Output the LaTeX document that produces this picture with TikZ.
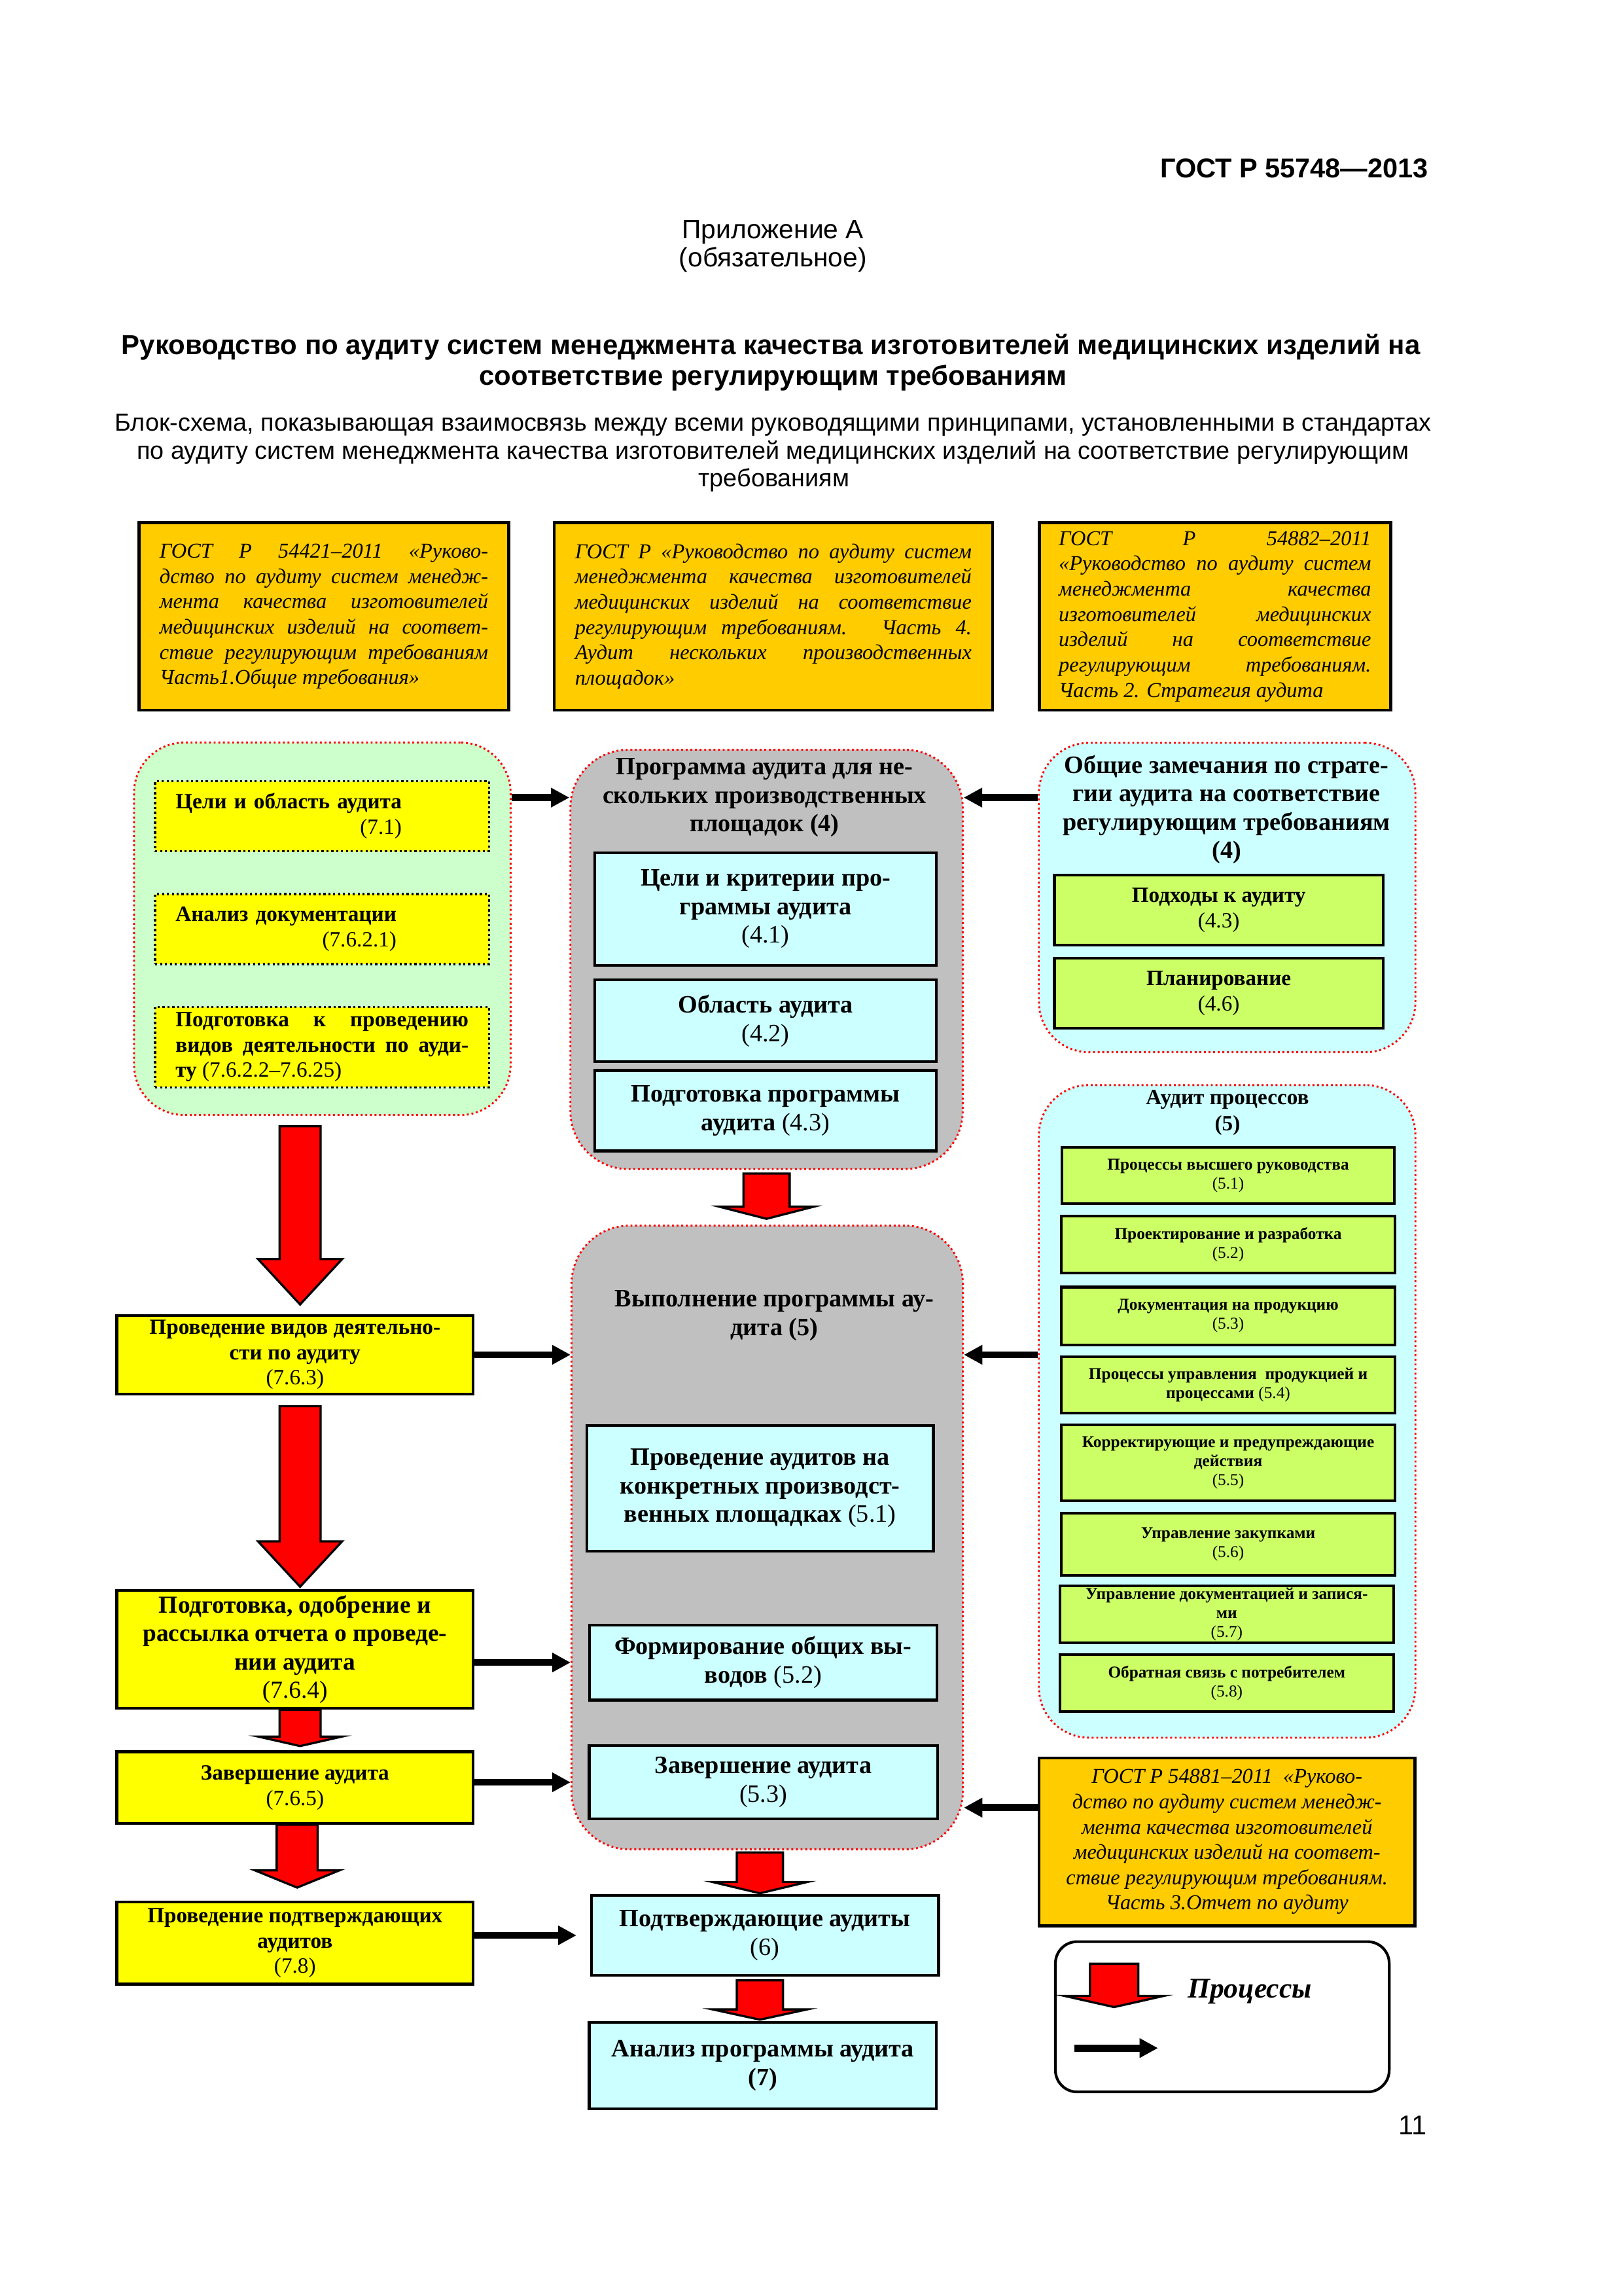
\documentclass[tikz,border=0pt]{standalone}
\usepackage{fontspec}
\setmainfont{Liberation Serif}
\newfontfamily\arialfont{Liberation Sans}
\usetikzlibrary{calc,arrows.meta}

\hyphenpenalty=10000
\exhyphenpenalty=10000

\definecolor{stdorange}{HTML}{FFCC00}
\definecolor{ryellow}{HTML}{FFFF00}
\definecolor{paleg}{HTML}{CCFFCC}
\definecolor{paleblue}{HTML}{CCFFFF}
\definecolor{lime}{HTML}{CCFF66}
\definecolor{grpgray}{HTML}{C0C0C0}

\newcommand{\uu}{0.18937mm}
\newcommand{\secno}[1]{\textmd{#1}}
\newcommand{\boxfont}{\fontsize{9.2}{10.45}\selectfont\bfseries}
\newcommand{\smallbox}{\fontsize{8}{9.3}\selectfont\bfseries}
\newcommand{\procfont}{\fontsize{6.1}{7}\selectfont\bfseries}
\newcommand{\stdfont}{\fontsize{7.8}{9.3}\selectfont\itshape}

\tikzset{
  sz/.style 2 args={minimum width=#1*\uu, minimum height=#2*\uu},
  grp/.style={draw=red, densely dotted, line width=0.7pt, inner sep=0pt},
  stdbox/.style={draw, line width=1.1pt, fill=stdorange, inner sep=0pt, font=\stdfont},
  cbox/.style={draw, line width=1pt, fill=paleblue, inner sep=0pt, align=center, font=\boxfont},
  gbox/.style={draw, line width=1pt, fill=lime, inner sep=0pt, align=center, font=\procfont},
  ybox/.style={draw, line width=1pt, fill=ryellow, inner sep=0pt, align=center, font=\smallbox},
  ydot/.style={draw, densely dotted, line width=0.8pt, fill=ryellow, inner sep=0pt, font=\smallbox},
  grptitle/.style={inner sep=0pt, align=center, font=\boxfont},
  conn/.style={line width=2.6pt, -{Triangle[length=6.8pt,width=6.8pt]}},
  procarrow/.style={fill=red, draw=black, line width=0.8pt},
  head/.style={anchor=base, inner sep=0pt},
}

% red block arrow: top, tip, head length, half shaft width
\newcommand{\redarrow}[4]{%
  \coordinate (ra) at (#1);
  \coordinate (rb) at (#2);
  \filldraw[procarrow] ($(ra)+(-#4,0)$) -- ($(rb)+(-#4,-#3)$) -- ($(rb)+(-2.05*#4,-#3)$)
    -- (rb) -- ($(rb)+(2.05*#4,-#3)$) -- ($(rb)+(#4,-#3)$) -- ($(ra)+(#4,0)$) -- cycle;}

\begin{document}
\begin{tikzpicture}[x=\uu, y=-\uu]

\fill[white] (0,0) rectangle (1109,1568);
\useasboundingbox (0,0) rectangle (1109,1568);

% page head
\node[head, anchor=base east, font=\arialfont\bfseries\fontsize{10}{12}\selectfont] (gostno) at (976,121.5) {ГОСТ Р 55748—2013};
\node[head, font=\arialfont\fontsize{9.8}{12}\selectfont] (appx1) at (528,162.8) {Приложение А};
\node[head, font=\arialfont\fontsize{9.8}{12}\selectfont] (appx2) at (528,182) {(обязательное)};
\node[head, font=\arialfont\bfseries\fontsize{10.1}{12}\selectfont] (title1) at (526.6,242) {Руководство по аудиту систем менеджмента качества изготовителей медицинских изделий на};
\node[head, font=\arialfont\bfseries\fontsize{10.1}{12}\selectfont] (title2) at (528.1,263) {соответствие регулирующим требованиям};
\node[head, font=\arialfont\fontsize{9.1}{12}\selectfont] (subt1) at (528.1,294.5) {Блок-схема, показывающая взаимосвязь между всеми руководящими принципами, установленными в стандартах};
\node[head, font=\arialfont\fontsize{9.1}{12}\selectfont] (subt2) at (528,313.5) {по аудиту систем менеджмента качества изготовителей медицинских изделий на соответствие регулирующим};
\node[head, font=\arialfont\fontsize{9.1}{12}\selectfont] (subt3) at (528.7,332.5) {требованиям};

% standards
\node[stdbox, sz={252.5}{128}, text width=42.5mm, align=justify] (std1) at (221.25,421) {ГОСТ Р 54421–2011 «Руково-\linebreak дство по аудиту систем менедж-\linebreak мента качества изготовителей\linebreak медицинских изделий на соответ-\linebreak ствие регулирующим требованиям\linebreak Часть1.Общие требования»};
\node[stdbox, sz={299.6}{128}, text width=51.3mm, align=justify] (std2) at (528.3,421) {ГОСТ Р «Руководство по аудиту систем\linebreak менеджмента качества изготовителей\linebreak медицинских изделий на соответствие\linebreak регулирующим требованиям. Часть 4.\linebreak Аудит нескольких производственных\linebreak площадок»};
\node[stdbox, sz={240.1}{128}, text width=40.4mm, align=justify] (std3) at (829.95,421) {ГОСТ Р 54882–2011\linebreak «Руководство по аудиту систем\linebreak менеджмента качества\linebreak изготовителей медицинских\linebreak изделий на соответствие\linebreak регулирующим требованиям.\linebreak Часть 2. Стратегия аудита};

% groups
\node[grp, fill=paleg, rounded corners=6.5mm, sz={257.2}{254.4}] (grpL) at (220.2,634.3) {};
\node[grp, fill=grpgray, rounded corners=7.5mm, sz={268}{286.4}] (prog) at (523.65,655.2) {};
\node[grp, fill=paleblue, rounded corners=6.5mm, sz={257.2}{211.3}] (strat) at (838.3,612.95) {};
\node[grp, fill=paleblue, rounded corners=6.5mm, sz={257.2}{445.7}] (proc) at (838.3,963.85) {};
\node[grp, fill=grpgray, rounded corners=7.5mm, sz={267.3}{426}] (exec) at (524.1,1050) {};

% left group
\node[ydot, sz={228}{47.7}, text width=37.9mm, align=left] (goal) at (220,557.45) {\begin{tabular}{@{}r@{}}Цели и область аудита\\ \secno{(7.1)}\end{tabular}};
\node[ydot, sz={228}{47.9}, text width=37.9mm, align=left] (docan) at (220,634.45) {\begin{tabular}{@{}r@{}}Анализ документации\\ \secno{(7.6.2.1)}\end{tabular}};
\node[ydot, sz={228}{54.9}, text width=37.9mm, align=justify] (prepa) at (220,715.15) {Подготовка к проведению\linebreak видов деятельности по ауди-\linebreak ту \secno{(7.6.2.2–7.6.25)}};

% audit programme
\node[grptitle] (progT) at (522.3,544.7) {Программа аудита для не-\\скольких производственных\\площадок (4)};
\node[cbox, sz={233.6}{76.9}] (obj) at (523,620.75) {Цели и критерии про-\\граммы аудита\\\secno{(4.1)}};
\node[cbox, sz={233.6}{55.7}] (scope) at (523,697.15) {Область аудита\\\secno{(4.2)}};
\node[cbox, sz={233.6}{55}] (pprog) at (523,758.5) {Подготовка программы\\аудита \secno{(4.3)}};

% strategy
\node[grptitle] (stratT) at (837.9,552.9) {Общие замечания по страте-\\гии аудита на соответствие\\регулирующим требованиям\\(4)};
\node[gbox, font=\smallbox, sz={224.5}{47.9}] (appr) at (832.55,621.65) {Подходы к аудиту\\\secno{(4.3)}};
\node[gbox, font=\smallbox, sz={224.5}{47.8}] (plan) at (832.55,678.4) {Планирование\\\secno{(4.6)}};

% process audit
\node[grptitle, font=\fontsize{8}{9.7}\selectfont\bfseries] (procT) at (838.5,760) {Аудит процессов\\(5)};
\node[gbox, sz={227}{38.5}] (p1) at (839,802.75) {Процессы высшего руководства\\\secno{(5.1)}};
\node[gbox, sz={228}{39.2}] (p2) at (839,849.9) {Проектирование и разработка\\\secno{(5.2)}};
\node[gbox, sz={228}{39.4}] (p3) at (839,898.7) {Документация на продукцию\\\secno{(5.3)}};
\node[gbox, sz={228}{38.3}] (p4) at (839,945.85) {Процессы управления \ продукцией и\\процессами \secno{(5.4)}};
\node[gbox, sz={228}{52}] (p5) at (839,999) {Корректирующие и предупреждающие\\действия\\\secno{(5.5)}};
\node[gbox, sz={228}{42.6}] (p6) at (839,1054.7) {Управление закупками\\\secno{(5.6)}};
\node[gbox, sz={228}{39}] (p7) at (838,1102.5) {Управление документацией и запися-\\ми\\\secno{(5.7)}};
\node[gbox, sz={228}{39.2}] (p8) at (838,1149.4) {Обратная связь с потребителем\\\secno{(5.8)}};

% execution
\node[grptitle] (execT) at (529,898.5) {Выполнение программы ау-\\дита (5)};
\node[cbox, sz={236.8}{85.9}] (sites) at (519.2,1016.35) {Проведение аудитов на\\конкретных производст-\\венных площадках \secno{(5.1)}};
\node[cbox, sz={237.2}{51.3}] (concl) at (521.3,1135.35) {Формирование общих вы-\\водов \secno{(5.2)}};
\node[cbox, sz={237.9}{50.3}] (fin5) at (521.45,1217.15) {Завершение аудита\\\secno{(5.3)}};
\node[cbox, sz={237.2}{54.6}] (confa) at (522.6,1321.7) {Подтверждающие аудиты\\\secno{(6)}};
\node[cbox, sz={237.2}{58.8}] (anal) at (521.1,1410.6) {Анализ программы аудита\\(7)};

% left column
\node[ybox, sz={243.4}{53.6}] (actv) at (201.5,925.2) {Проведение видов деятельно-\\сти по аудиту\\\secno{(7.6.3)}};
\node[ybox, font=\fontsize{9}{10.4}\selectfont\bfseries, sz={243.4}{80.7}] (rep) at (201.5,1126.4) {Подготовка, одобрение и\\рассылка отчета о проведе-\\нии аудита\\\secno{(7.6.4)}};
\node[ybox, sz={243.4}{48.9}] (fin7) at (201.5,1220.8) {Завершение аудита\\\secno{(7.6.5)}};
\node[ybox, sz={243.4}{56}] (conf7) at (201.5,1327) {Проведение подтверждающих\\аудитов\\\secno{(7.8)}};

% report standard
\node[stdbox, sz={257}{114.6}, align=center] (std4) at (838.2,1257.8) {ГОСТ Р 54881–2011 \ «Руково-\\дство по аудиту систем менедж-\\мента качества изготовителей\\медицинских изделий на соответ-\\ствие регулирующим требованиям.\\Часть 3.Отчет по аудиту};

% legend
\node[draw, line width=1pt, fill=white, rounded corners=2.8mm, sz={228}{102.6}] (legend) at (835,1377.3) {};
\node[inner sep=0pt, anchor=west, font=\fontsize{10.5}{12}\selectfont\bfseries\itshape] (legtxt) at (811,1360) {Процессы};

% page number
\node[head, anchor=base east, font=\arialfont\fontsize{10}{12}\selectfont] (pgno) at (975,1458) {11};

% processes
\redarrow{$(grpL.south -| actv.north)+(3.5,7)$}{$(actv.north)+(3.5,-6.6)$}{31}{14}
\redarrow{$(actv.south)+(3.5,7.4)$}{$(rep.north)+(3.5,-1.5)$}{31}{14}
\redarrow{$(rep.south)+(3.5,0)$}{$(fin7.north)+(3.5,-3)$}{6.5}{14}
\redarrow{$(fin7.south)+(1.5,0)$}{$(conf7.north)+(1.5,-9)$}{11.7}{14}
\redarrow{$(prog.south)+(0,2.4)$}{$(exec.north -| prog.south)+(0,-4)$}{8.3}{15.8}
\redarrow{$(exec.south -| confa.north)+(-3.5,1.4)$}{$(confa.north)+(-3.5,-0.5)$}{7.7}{15.75}
\redarrow{$(confa.south)+(-3.5,2.5)$}{$(confa.south |- anal.north)+(-3.5,-1)$}{7}{15.75}
\redarrow{$(legend.north west)+(41,16)$}{$(legend.north west)+(41,45.6)$}{7.6}{16.5}

% links
\draw[conn] (grpL.east |- progT) -- (prog.west |- progT);
\draw[conn] (strat.west |- progT) -- (prog.east |- progT);
\draw[conn] (actv.east) -- (actv.east -| exec.west);
\draw[conn] (proc.west |- actv.east) -- (exec.east |- actv.east);
\draw[conn] (rep.east |- concl) -- (exec.west |- concl);
\draw[conn] (fin7.east |- fin5) -- (exec.west |- fin5);
\draw[conn, shorten >=5pt] (conf7.east |- confa) -- (confa.west);
\coordinate (b4a) at ($(std4.north west)!.3!(std4.south west)$);
\draw[conn] (b4a) -- (b4a -| exec.east);
\coordinate (lgb) at ($(legend.north west)+(14,73.6)$);
\draw[conn] (lgb) -- ($(lgb)+(57,0)$);

\end{tikzpicture}
\end{document}
